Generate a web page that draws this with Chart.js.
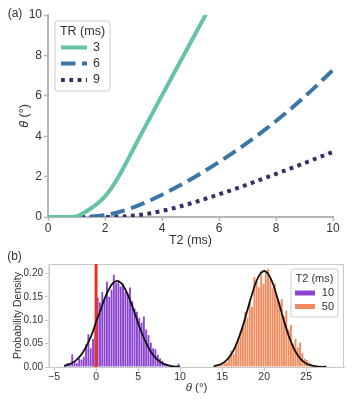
<!DOCTYPE html>
<html>
<head>
<meta charset="utf-8">
<script src="https://cdn.jsdelivr.net/npm/chart.js@4.4.0/dist/chart.umd.min.js"></script>
<style>
  body { margin: 0; background: #fff; }
  #wrap { position: relative; width: 355px; height: 400px; }
  #topBox { position: absolute; left: 0; top: 0; }
  #botBox { position: absolute; left: 0; top: 250px; }
</style>
</head>
<body>
<div id="wrap">
  <div id="topBox"><canvas id="thetaChart" width="355" height="250"></canvas></div>
  <div id="botBox"><canvas id="histChart" width="355" height="150"></canvas></div>
</div>
<script>
// ---- (a) flip angle vs T2, one curve per TR ----
let trLabels = ["3", "6", "9"];
let t2Tr3 = [0, 0.5, 1, 1.25, 1.5, 1.75, 2, 2.25, 2.5, 2.75, 3, 3.25, 3.5, 4, 4.5, 5, 5.5, 5.6];
let thetaTr3 = [0, 0, 0.03, 0.2, 0.42, 0.68, 1.02, 1.48, 2.05, 2.7, 3.38, 4.05, 4.7, 6.02, 7.33, 8.63, 9.93, 10.2];
let t2Tr6 = [0, 1, 1.5, 2, 2.5, 3, 3.5, 4, 4.5, 5, 5.5, 6, 6.5, 7, 7.5, 8, 8.5, 9, 9.5, 10];
let thetaTr6 = [0, 0, 0.02, 0.09, 0.25, 0.48, 0.77, 1.1, 1.47, 1.86, 2.28, 2.72, 3.19, 3.68, 4.2, 4.75, 5.33, 5.95, 6.6, 7.28];
let t2Tr9 = [0, 2, 2.5, 3, 3.5, 4, 4.5, 5, 5.5, 6, 6.5, 7, 7.5, 8, 8.5, 9, 9.5, 10];
let thetaTr9 = [0, 0, 0.02, 0.07, 0.16, 0.3, 0.47, 0.67, 0.89, 1.12, 1.36, 1.61, 1.87, 2.13, 2.4, 2.67, 2.95, 3.22];

// ---- (b) histograms of estimated theta ----
let t2Labels = ["10", "50"];
let binStart10 = -3.8, binWidth10 = 0.275;
let density10 = [0.005, 0.008, 0.004, 0.027, 0.012, 0.008, 0.018, 0.016, 0.022, 0.048,
                 0.070, 0.040, 0.060, 0.085, 0.148, 0.138, 0.160, 0.145, 0.182, 0.150,
                 0.165, 0.197, 0.180, 0.185, 0.172, 0.178, 0.160, 0.155, 0.170, 0.140,
                 0.125, 0.118, 0.105, 0.095, 0.108, 0.080, 0.068, 0.052, 0.040, 0.038,
                 0.026, 0.018, 0.013, 0.008, 0.006, 0.004, 0, 0.002, 0, 0.007];
let binStart50 = 13.8, binWidth50 = 0.272;
let density50 = [0.002, 0, 0.003, 0.004, 0.008, 0.012, 0.010, 0.020, 0.035, 0.028,
                 0.050, 0.062, 0.075, 0.085, 0.118, 0.105, 0.140, 0.128, 0.192, 0.185,
                 0.170, 0.196, 0.178, 0.200, 0.210, 0.190, 0.168, 0.178, 0.150, 0.140,
                 0.145, 0.108, 0.120, 0.080, 0.090, 0.050, 0.060, 0.042, 0.052, 0.030,
                 0.018, 0.015, 0.010, 0.006, 0.004, 0.002, 0.002, 0, 0.001, 0.004];
// fitted normal curves
let fitX10 = [-3.8, -3.5, -3, -2.5, -2, -1.5, -1, -0.5, 0, 0.5, 1, 1.5, 2, 2.5, 3, 3.5, 4, 4.5, 5, 5.5, 6, 6.5, 7, 7.5, 8, 8.5, 9, 9.5, 10];
let fitY10 = [0.0025, 0.004, 0.0072, 0.0126, 0.021, 0.033, 0.05, 0.07, 0.096, 0.12, 0.145, 0.165, 0.179, 0.184, 0.179, 0.165, 0.145, 0.12, 0.094, 0.07, 0.05, 0.033, 0.021, 0.0126, 0.0072, 0.004, 0.002, 0.001, 0.0005];
let fitX50 = [14, 14.5, 15, 15.5, 16, 16.5, 17, 17.5, 18, 18.5, 19, 19.5, 20, 20.5, 21, 21.5, 22, 22.5, 23, 23.5, 24, 24.5, 25, 25.5, 26, 26.5, 27, 27.4];
let fitY50 = [0.0018, 0.0038, 0.0076, 0.014, 0.025, 0.041, 0.063, 0.09, 0.121, 0.152, 0.18, 0.198, 0.205, 0.198, 0.18, 0.152, 0.121, 0.09, 0.063, 0.041, 0.025, 0.014, 0.0076, 0.0038, 0.0018, 0.0008, 0.0003, 0.0001];
let trueTheta = 0;
let xTicksB = [-5, 0, 5, 10, 15, 20, 25];
let yTicksB = [0, 0.05, 0.10, 0.15, 0.20];

const fontFamily = "'Liberation Sans', Arial, sans-serif";
Chart.defaults.font.family = fontFamily;
Chart.defaults.color = '#333';

function pairs(xs, ys) {
  return xs.map((x, i) => ({ x: x, y: ys[i] }));
}

//draw a text made of plain / italic pieces, centred on (x, y)
function drawParts(ctx, parts, x, y, angle, size) {
  ctx.save();
  ctx.translate(x, y);
  ctx.rotate(angle);
  ctx.fillStyle = '#333';
  ctx.textBaseline = 'middle';
  ctx.textAlign = 'left';
  let widths = parts.map(p => {
    ctx.font = (p[1] ? 'italic ' : '') + size + 'px ' + fontFamily;
    return ctx.measureText(p[0]).width;
  });
  let cx = -widths.reduce((a, b) => a + b, 0) / 2;
  parts.forEach((p, i) => {
    ctx.font = (p[1] ? 'italic ' : '') + size + 'px ' + fontFamily;
    ctx.fillText(p[0], cx, 0);
    cx += widths[i];
  });
  ctx.restore();
}

//titles and panel letters
const textPlugin = {
  id: 'texts',
  afterDraw(chart, args, opts) {
    opts.items.forEach(t => drawParts(chart.ctx, t.parts, t.x, t.y, t.angle || 0, t.size));
  }
};

//legend in a rounded box, like matplotlib
const boxLegend = {
  id: 'boxLegend',
  afterDraw(chart, args, o) {
    const ctx = chart.ctx;
    ctx.save();
    ctx.beginPath();
    ctx.roundRect(o.x, o.y, o.w, o.h, 3);
    ctx.fillStyle = 'rgba(255,255,255,0.85)';
    ctx.fill();
    ctx.strokeStyle = '#cccccc';
    ctx.lineWidth = 1;
    ctx.stroke();
    drawParts(ctx, [[o.title, false]], o.x + o.w / 2, o.titleY, 0, o.size);
    o.entries.forEach((e, k) => {
      const ds = chart.data.datasets[e.index];
      const y = o.rowY[k];
      if (o.kind === 'line') {
        ctx.beginPath();
        ctx.setLineDash(ds.borderDash || []);
        ctx.lineWidth = ds.borderWidth;
        ctx.strokeStyle = ds.borderColor;
        ctx.moveTo(o.handleX, y);
        ctx.lineTo(o.handleX + o.handleW, y);
        ctx.stroke();
        ctx.setLineDash([]);
      } else {
        ctx.fillStyle = ds.backgroundColor;
        ctx.fillRect(o.handleX, y - 2.5, o.handleW, 5);
      }
      ctx.fillStyle = '#333';
      ctx.font = o.size + 'px ' + fontFamily;
      ctx.textBaseline = 'middle';
      ctx.textAlign = o.labelAlign;
      ctx.fillText(e.label, o.labelX, y);
    });
    ctx.restore();
  }
};

//full box round the plot area
const frame = {
  id: 'frame',
  beforeDatasetsDraw(chart, args, o) {
    if (!o.on) return;
    const a = chart.chartArea, ctx = chart.ctx;
    ctx.save();
    ctx.strokeStyle = '#c8c8c8';
    ctx.lineWidth = 1;
    ctx.strokeRect(a.left, a.top + 0.5, a.right - a.left - 0.5, a.bottom - a.top);
    ctx.restore();
  }
};

// ---------- chart (a) ----------
var ctxA = document.getElementById('thetaChart').getContext('2d');
var chartA = new Chart(ctxA, {
  type: 'line',
  data: {
    datasets: [
      { label: trLabels[0], data: pairs(t2Tr3, thetaTr3), borderColor: '#64c3a8', borderWidth: 4 },
      { label: trLabels[1], data: pairs(t2Tr6, thetaTr6), borderColor: '#3b77a6', borderWidth: 4, borderDash: [14.5, 6.5] },
      { label: trLabels[2], data: pairs(t2Tr9, thetaTr9), borderColor: '#352e68', borderWidth: 4, borderDash: [3.8, 4.5] }
    ]
  },
  options: {
    responsive: false,
    animation: false,
    events: [],
    elements: { point: { radius: 0 }, line: { cubicInterpolationMode: 'monotone', borderCapStyle: 'butt' } },
    layout: { padding: { top: 15, right: 22, left: 0, bottom: 0 } },
    scales: {
      x: {
        type: 'linear', min: 0, max: 10,
        ticks: { stepSize: 2, font: { size: 12 }, padding: 0, maxRotation: 0 },
        grid: { drawOnChartArea: false, tickLength: 4, color: '#b5b5b5', tickWidth: 1.5 },
        border: { color: '#b5b5b5', width: 2 },
        afterFit: s => { s.height = 33; }
      },
      y: {
        min: 0, max: 10,
        ticks: { stepSize: 2, font: { size: 12 }, padding: 2 },
        grid: { drawOnChartArea: false, tickLength: 4, color: '#b5b5b5', tickWidth: 1.5 },
        border: { color: '#b5b5b5', width: 2 },
        afterFit: s => { s.width = 48; }
      }
    },
    plugins: {
      legend: { display: false },
      tooltip: { enabled: false },
      texts: {
        items: [
          { parts: [['(a)', false]], x: 15, y: 14, size: 12 },
          { parts: [['θ', true], [' (°)', false]], x: 25, y: 116, angle: -Math.PI / 2, size: 12.5 },
          { parts: [['T2 (ms)', false]], x: 190.5, y: 240.5, size: 12.5 }
        ]
      },
      boxLegend: {
        kind: 'line', x: 55, y: 21, w: 55, h: 70, size: 12.5,
        title: 'TR (ms)', titleY: 31.5,
        handleX: 61, handleW: 26, labelX: 93, labelAlign: 'left',
        rowY: [47.5, 63.5, 80],
        entries: [{ index: 0, label: trLabels[0] }, { index: 1, label: trLabels[1] }, { index: 2, label: trLabels[2] }]
      },
      frame: { on: false }
    }
  },
  plugins: [textPlugin, boxLegend, frame]
});

// ---------- chart (b) ----------
function binPoints(start, width, dens) {
  return dens.map((d, i) => ({ x: start + width * (i + 0.5), y: d }));
}
let yMaxB = 0.22;

var ctxB = document.getElementById('histChart').getContext('2d');
var chartB = new Chart(ctxB, {
  type: 'bar',
  data: {
    datasets: [
      { type: 'bar', label: t2Labels[0], data: binPoints(binStart10, binWidth10, density10), backgroundColor: '#8b44d2', order: 3 },
      { type: 'bar', label: t2Labels[1], data: binPoints(binStart50, binWidth50, density50), backgroundColor: '#f08b5e', order: 3 },
      { type: 'line', data: [{ x: trueTheta, y: 0 }, { x: trueTheta, y: yMaxB }], borderColor: '#ee3124', borderWidth: 3, pointRadius: 0, order: 2 },
      { type: 'line', data: pairs(fitX10, fitY10), borderColor: '#111', borderWidth: 1.8, pointRadius: 0, cubicInterpolationMode: 'monotone', order: 1 },
      { type: 'line', data: pairs(fitX50, fitY50), borderColor: '#111', borderWidth: 1.8, pointRadius: 0, cubicInterpolationMode: 'monotone', order: 1 }
    ]
  },
  options: {
    responsive: false,
    animation: false,
    events: [],
    datasets: { bar: { grouped: false, barPercentage: 0.82, categoryPercentage: 1 } },
    layout: { padding: { top: 14, right: 11, left: 0, bottom: 0 } },
    scales: {
      x: {
        type: 'linear', min: -5.6, max: 29.5, offset: false,
        afterBuildTicks: s => { s.ticks = xTicksB.map(v => ({ value: v })); },
        ticks: { font: { size: 10.5 }, padding: 0, maxRotation: 0, callback: v => (v < 0 ? '\u2212' + (-v) : v) },
        grid: { drawOnChartArea: false, offset: false, tickLength: 4, color: '#c8c8c8' },
        border: { color: '#c8c8c8', width: 1 },
        afterFit: s => { s.height = 33; }
      },
      y: {
        min: 0, max: yMaxB,
        afterBuildTicks: s => { s.ticks = yTicksB.map(v => ({ value: v })); },
        ticks: { font: { size: 10 }, padding: 2, callback: v => v.toFixed(2) },
        grid: { drawOnChartArea: false, tickLength: 4, color: '#c8c8c8' },
        border: { color: '#c8c8c8', width: 1 },
        afterFit: s => { s.width = 49; }
      }
    },
    plugins: {
      legend: { display: false },
      tooltip: { enabled: false },
      texts: {
        items: [
          { parts: [['(b)', false]], x: 14.5, y: 6.5, size: 12 },
          { parts: [['Probability Density', false]], x: 18, y: 65.5, angle: -Math.PI / 2, size: 10.5 },
          { parts: [['θ', true], [' (°)', false]], x: 196.5, y: 137.5, size: 11.5 }
        ]
      },
      boxLegend: {
        kind: 'rect', x: 291, y: 19, w: 47, h: 48, size: 11,
        title: 'T2 (ms)', titleY: 28.5,
        handleX: 295, handleW: 20, labelX: 334, labelAlign: 'right',
        rowY: [43, 56.5],
        entries: [{ index: 0, label: t2Labels[0] }, { index: 1, label: t2Labels[1] }]
      },
      frame: { on: true }
    }
  },
  plugins: [textPlugin, boxLegend, frame]
});
</script>
</body>
</html>
